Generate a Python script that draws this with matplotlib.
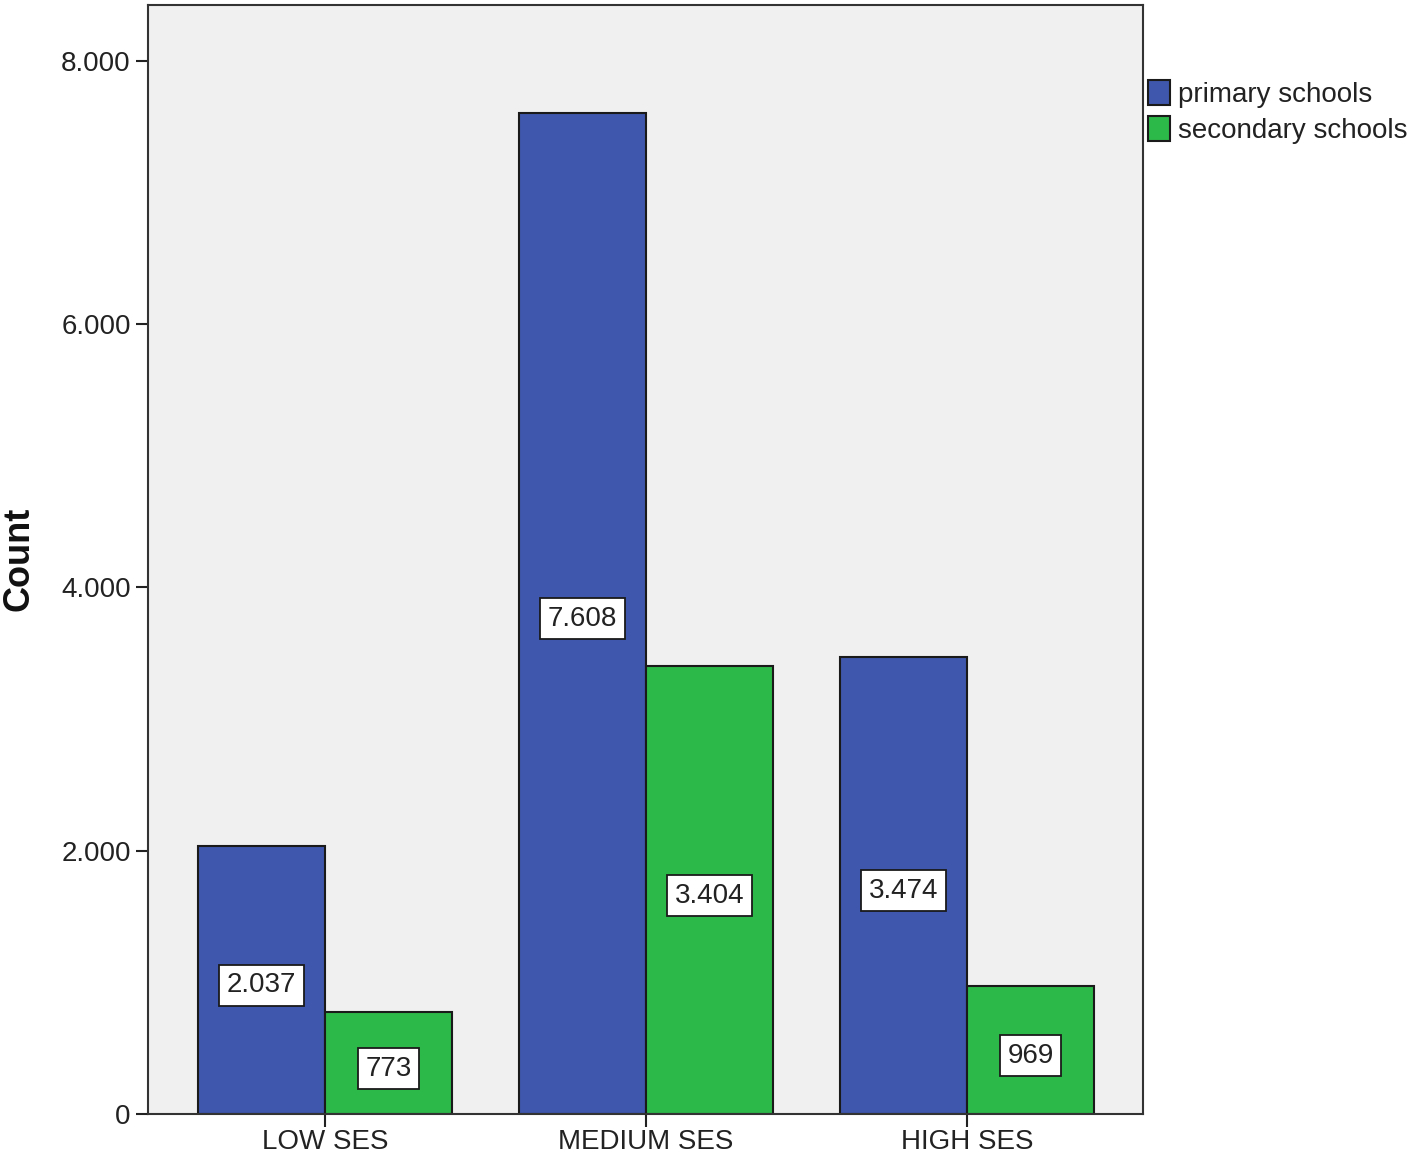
import numpy as np
import matplotlib
matplotlib.use("Agg")
import matplotlib.pyplot as plt

# data
categories = ["LOW SES", "MEDIUM SES", "HIGH SES"]
primary = [2037, 7608, 3474]
secondary = [773, 3404, 969]
series_names = ["primary schools", "secondary schools"]
yticks = [0, 2000, 4000, 6000, 8000]
ytick_labels = ["0", "2.000", "4.000", "6.000", "8.000"]

plt.rcParams["font.family"] = ["Liberation Sans", "DejaVu Sans"]

fig = plt.figure(figsize=(14.18, 11.55), dpi=100)
ax = fig.add_axes([0.1044, 0.0355, 0.7016, 0.9602])
ax.set_facecolor("#f0f0f0")

x = np.arange(len(categories))
w = 0.396
b1 = ax.bar(x - w/2, primary, w, color="#3f57ac", edgecolor="#1a1a1a", linewidth=1.5, label=series_names[0])
b2 = ax.bar(x + w/2, secondary, w, color="#2db84a", edgecolor="#1a1a1a", linewidth=1.5, label=series_names[1])

def fmt(v):
    return "{:,}".format(v).replace(",", ".")

# value labels sit a bit below the middle of each bar
for bars, vals in [(b1, primary), (b2, secondary)]:
    for rect, v in zip(bars, vals):
        ax.annotate(fmt(v), (rect.get_x() + rect.get_width()/2, v/2), xytext=(0, -4),
                    textcoords="offset points", ha="center", va="center",
                    fontsize=20, color="#222222",
                    bbox=dict(boxstyle="square,pad=0.27", facecolor="white", edgecolor="#1a1a1a", linewidth=1.3))

ax.set_xlim(-0.551, 2.548)
ax.set_ylim(0, 8425)
ax.set_yticks(yticks)
ax.set_yticklabels(ytick_labels)
ax.set_xticks(x)
ax.set_xticklabels(categories)
ax.tick_params(axis="both", labelsize=20, labelcolor="#222222", direction="out", length=9, width=1.5, colors="#222222")
ax.tick_params(axis="x", pad=1.5)
for s in ax.spines.values():
    s.set_linewidth(1.5)
    s.set_color("#333333")

fig.text(0.0135, 0.516, "Count", rotation=90, ha="center", va="center", fontsize=26, fontweight="bold", color="#111111")

fig.legend(handles=[b1, b2], loc="upper left", bbox_to_anchor=(0.8095, 0.931), frameon=False,
           fontsize=20, handlelength=0.8, handleheight=1.0, handletextpad=0.3, labelspacing=0.3,
           borderaxespad=0, borderpad=0, labelcolor="#222222")

fig.savefig("out.png", dpi=100, facecolor="white")
